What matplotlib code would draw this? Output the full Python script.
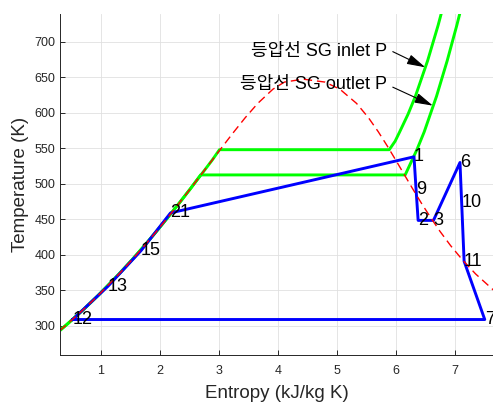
import numpy as np
import matplotlib
matplotlib.use('Agg')
from matplotlib import pyplot as plt

plt.rcParams['font.family'] = ['Liberation Sans', 'Noto Sans CJK KR', 'DejaVu Sans']

# saturation dome of water (T in K, s in kJ/kg K)
dome_T = [293.15, 303.15, 323.15, 343.15, 373.15, 393.15, 413.15, 433.15, 453.15,
          473.15, 493.15, 513.15, 533.15, 553.15, 573.15, 593.15, 613.15, 633.15,
          643.15, 647.29]
dome_sf = [0.2966, 0.4368, 0.7038, 0.9551, 1.3072, 1.5279, 1.7392, 1.9426, 2.1392,
           2.3305, 2.5177, 2.7020, 2.8849, 3.0685, 3.2552, 3.4480, 3.6594, 3.9167,
           4.1112, 4.4298]
dome_sg = [8.6672, 8.4520, 8.0763, 7.7553, 7.3549, 7.1296, 6.9294, 6.7502, 6.5872,
           6.4322, 6.2861, 6.1437, 6.0019, 5.8571, 5.7049, 5.5362, 5.3357, 5.0526,
           4.8012, 4.4298]

# SG inlet isobar
inlet_tsat = 548.0
inlet_sf, inlet_sg = 3.01, 5.89
inlet_sup_T = [560.0, 573.15, 598.15, 623.15, 673.15, 723.15, 773.15]
inlet_sup_s = [5.99, 6.0673, 6.21, 6.3334, 6.5407, 6.7192, 6.8802]

# SG outlet isobar
outlet_tsat = 512.5
outlet_sf, outlet_sg = 2.69, 6.16
outlet_sup_T = [523.15, 548.15, 573.15, 623.15, 673.15, 723.15, 773.15]
outlet_sup_s = [6.2198, 6.36, 6.4833, 6.6919, 6.8728, 7.0365, 7.1878]

# cycle state points
cyc_lbl = ['12', '13', '15', '21', '1', '9', '2', '3', '6', '10', '11', '7']
cyc_s = [0.52, 1.12, 1.68, 2.18, 6.31, 6.345, 6.38, 6.64, 7.09, 7.118, 7.16, 7.51]
cyc_T = [309, 356, 406, 459, 538, 492, 448.5, 448.5, 530, 474, 391, 309]


def isobar(tsat, sf, sg, sup_s, sup_T):
    T = np.array(dome_T)
    mask = T < tsat
    s = list(np.array(dome_sf)[mask]) + [sf, sg] + sup_s
    t = list(T[mask]) + [tsat, tsat] + sup_T
    return s, t


fig = plt.figure(figsize=(4.93, 4.03), dpi=100)
ax = fig.add_axes([0.1223, 0.119, 0.8777, 0.8463])

s1, t1 = isobar(inlet_tsat, inlet_sf, inlet_sg, inlet_sup_s, inlet_sup_T)
s2, t2 = isobar(outlet_tsat, outlet_sf, outlet_sg, outlet_sup_s, outlet_sup_T)
ax.plot(s1, t1, color='#00ff00', lw=2.1)
ax.plot(s2, t2, color='#00ff00', lw=2.1)

# cycle (closed back to 12)
ax.plot(cyc_s + cyc_s[:1], cyc_T + cyc_T[:1], color='#0000ff', lw=2.1)

dome_s = dome_sf + dome_sg[::-1][1:]
dome_t = dome_T + dome_T[::-1][1:]
ax.plot(dome_s, dome_t, color='#ff0000', lw=1.0, dashes=(6, 3.5))

for lbl, s, t in zip(cyc_lbl, cyc_s, cyc_T):
    ax.text(s, t, lbl, fontsize=13, ha='left', va='center')

ax.text(5.85, 686, '등압선 SG inlet P', fontsize=13, ha='right', va='center')
ax.text(5.85, 640, '등압선 SG outlet P', fontsize=13, ha='right', va='center')
arrow = dict(arrowstyle='-|>,head_length=0.8,head_width=0.22', color='k', lw=0.8,
             mutation_scale=14, shrinkA=0, shrinkB=0)
ax.annotate('', xy=(6.50, 664), xytext=(5.95, 686), arrowprops=arrow)
ax.annotate('', xy=(6.63, 610), xytext=(5.95, 636), arrowprops=arrow)

ax.set_xlim(0.31, 7.65)
ax.set_ylim(259, 739)
ax.set_xticks(range(1, 8))
ax.set_yticks(range(300, 701, 50))
ax.grid(True, color='#e0e0e0', lw=0.6)
ax.set_axisbelow(True)
for side in ['top', 'right']:
    ax.spines[side].set_visible(False)
for side in ['left', 'bottom']:
    ax.spines[side].set_color('#262626')
    ax.spines[side].set_linewidth(0.7)
ax.tick_params(direction='in', length=3.5, width=0.7, colors='#262626',
               labelsize=9)
ax.tick_params(axis='x', pad=7)
ax.set_xlabel('Entropy (kJ/kg K)', fontsize=13.5, color='#262626', labelpad=6)
ax.set_ylabel('Temperature (K)', fontsize=13.5, color='#262626')

fig.savefig('out.png', dpi=100)
